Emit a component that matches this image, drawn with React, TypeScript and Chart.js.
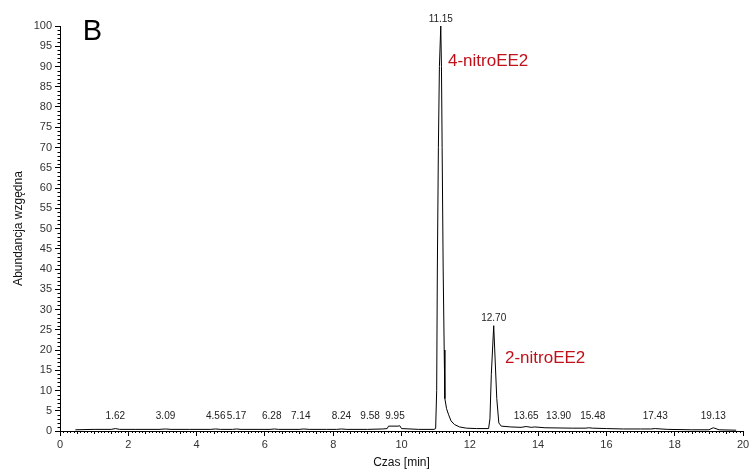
import React, { useEffect, useRef } from 'react';
import { Chart, registerables } from 'chart.js';

Chart.register(...registerables);

// Chromatogram trace (retention time in min, relative abundance in %)
const timeMin = [
  0.45, 1.0, 1.5, 1.62, 1.75, 2.2, 2.9, 3.09, 3.25, 3.8, 4.4, 4.56, 4.7, 5.05, 5.17, 5.3, 5.8,
  6.15, 6.28, 6.4, 7.0, 7.14, 7.3, 7.8, 8.1, 8.24, 8.4, 9.0, 9.45, 9.58, 9.62, 9.9, 9.95, 10.0,
  10.5, 10.95, 11.0, 11.03, 11.05, 11.08, 11.11, 11.15, 11.17, 11.19, 11.22, 11.25, 11.27,
  11.32, 11.38, 11.45, 11.55, 11.7, 11.9, 12.2, 12.55, 12.59, 12.63, 12.7, 12.74, 12.79,
  12.85, 12.92, 13.2, 13.5, 13.65, 13.8, 13.9, 14.2, 15.0, 15.4, 15.48, 15.6, 16.0, 16.5,
  17.0, 17.3, 17.43, 17.6, 17.8, 18.5, 19.0, 19.13, 19.3, 19.8,
];
const intensity = [
  0.3, 0.4, 0.4, 0.6, 0.4, 0.4, 0.4, 0.5, 0.4, 0.4, 0.4, 0.5, 0.4, 0.4, 0.5, 0.4, 0.4,
  0.4, 0.5, 0.4, 0.4, 0.5, 0.4, 0.4, 0.4, 0.5, 0.4, 0.4, 0.5, 0.6, 1.2, 1.2, 1.3, 0.6,
  0.4, 0.4, 0.6, 10, 40, 70, 90, 100, 90, 70, 40, 20, 8,
  5.5, 4, 2.5, 1.6, 1.0, 0.7, 0.6, 0.6, 3, 14, 26, 18, 8,
  2, 1.2, 1.0, 0.9, 1.1, 0.9, 1.0, 0.8, 0.7, 0.7, 0.8, 0.7, 0.6, 0.5,
  0.5, 0.5, 0.6, 0.5, 0.4, 0.3, 0.3, 0.8, 0.3, 0.2,
];

// Peak annotations: retention time, peak height, and where the label sits (min)
const peakTimes = [1.62, 3.09, 4.56, 5.17, 6.28, 7.14, 8.24, 9.58, 9.95, 11.15, 12.7, 13.65, 13.9, 15.48, 17.43, 19.13];
const peakHeights = [0.6, 0.5, 0.5, 0.5, 0.5, 0.5, 0.5, 0.6, 1.3, 100, 26, 1.1, 1.0, 0.8, 0.6, 0.8];
const peakLabelAt = [1.62, 3.09, 4.56, 5.17, 6.2, 7.05, 8.24, 9.08, 9.81, 11.15, 12.7, 13.65, 14.6, 15.6, 17.43, 19.13];

// Compound names
const compoundNames = ['4-nitroEE2', '2-nitroEE2'];
const compoundAt = [11.36, 13.03];
const compoundLevel = [91.4, 18];

const panelLetter = 'B';
const xTicks = [0, 2, 4, 6, 8, 10, 12, 14, 16, 18, 20];
const yTicks = [0, 5, 10, 15, 20, 25, 30, 35, 40, 45, 50, 55, 60, 65, 70, 75, 80, 85, 90, 95, 100];

const FONT = '"Liberation Sans", Arial, sans-serif';
const RED = '#c0101a';

const annotPlugin = {
  id: 'annot',
  afterDraw(chart: any) {
    const { ctx, scales } = chart;
    const x = scales.x;
    const y = scales.y;
    ctx.save();
    // minor ticks
    ctx.strokeStyle = '#000';
    ctx.lineWidth = 1;
    ctx.beginPath();
    for (let i = 0; i <= 200; i++) {
      if (i % 20 === 0) continue;
      const px = Math.round(x.getPixelForValue(i / 10)) + 0.5;
      const len = i % 5 === 0 ? 3 : 2;
      ctx.moveTo(px, x.top);
      ctx.lineTo(px, x.top + len);
    }
    for (let i = 0; i <= 100; i++) {
      if (i % 5 === 0) continue;
      const py = Math.round(y.getPixelForValue(i)) + 0.5;
      ctx.moveTo(y.right - 2.5, py);
      ctx.lineTo(y.right, py);
    }
    ctx.stroke();

    // peak labels
    ctx.font = `10px ${FONT}`;
    ctx.fillStyle = '#222';
    ctx.textAlign = 'center';
    ctx.textBaseline = 'bottom';
    const base = y.getPixelForValue(0);
    peakTimes.forEach((t, i) => {
      const px = x.getPixelForValue(peakLabelAt[i]);
      const py = Math.min(y.getPixelForValue(peakHeights[i]) - 2, base - 10);
      ctx.fillText(t.toFixed(2), px, py);
    });

    // compound names
    ctx.font = `17px ${FONT}`;
    ctx.fillStyle = RED;
    ctx.textAlign = 'left';
    ctx.textBaseline = 'middle';
    compoundNames.forEach((n, i) => {
      ctx.fillText(n, x.getPixelForValue(compoundAt[i]), y.getPixelForValue(compoundLevel[i]));
    });

    // panel letter
    ctx.font = `29px ${FONT}`;
    ctx.fillStyle = '#000';
    ctx.textAlign = 'center';
    ctx.fillText(panelLetter, x.getPixelForValue(0.95), y.getPixelForValue(98.4));
    ctx.restore();
  },
};

export default function App() {
  const ref = useRef<HTMLCanvasElement | null>(null);
  useEffect(() => {
    if (!ref.current) return;
    const points = timeMin.map((t, i) => ({ x: t, y: intensity[i] }));
    const chart = new Chart(ref.current, {
      type: 'line',
      data: {
        datasets: [
          {
            data: points,
            borderColor: '#000',
            borderWidth: 1,
            pointRadius: 0,
            tension: 0,
            fill: false,
          },
        ],
      },
      options: {
        responsive: false,
        animation: false,
        events: [],
        layout: { padding: { top: 26, right: 10, left: 0, bottom: 0 } },
        plugins: { legend: { display: false }, tooltip: { enabled: false } },
        scales: {
          x: {
            type: 'linear',
            min: 0,
            max: 20,
            afterBuildTicks: (s: any) => {
              s.ticks = xTicks.map((v) => ({ value: v }));
            },
            afterFit: (s: any) => {
              s.height = 44;
            },
            ticks: { font: { family: FONT, size: 11 }, color: '#333', padding: 2, maxRotation: 0 },
            grid: { drawOnChartArea: false, drawTicks: true, tickLength: 5, color: '#000' },
            border: { display: true, color: '#000', width: 1 },
            title: {
              display: true,
              text: 'Czas [min]',
              font: { family: FONT, size: 12 },
              color: '#111',
              padding: { top: 0, bottom: 5 },
            },
          },
          y: {
            type: 'linear',
            min: 0,
            max: 100,
            afterBuildTicks: (s: any) => {
              s.ticks = yTicks.map((v) => ({ value: v }));
            },
            afterFit: (s: any) => {
              s.width = 60;
            },
            ticks: { font: { family: FONT, size: 11 }, color: '#333', padding: 3 },
            grid: { drawOnChartArea: false, drawTicks: true, tickLength: 5, color: '#000' },
            border: { display: true, color: '#000', width: 1 },
            title: {
              display: true,
              text: 'Abundancja wzgędna',
              font: { family: FONT, size: 12 },
              color: '#111',
              padding: { top: 11, bottom: 0 },
            },
          },
        },
      },
      plugins: [annotPlugin],
    });
    return () => chart.destroy();
  }, []);
  return (
    <div style={{ position: 'absolute', left: 0, top: 0, width: 753, height: 475, background: '#fff' }}>
      <canvas ref={ref} width={753} height={475} />
    </div>
  );
}
